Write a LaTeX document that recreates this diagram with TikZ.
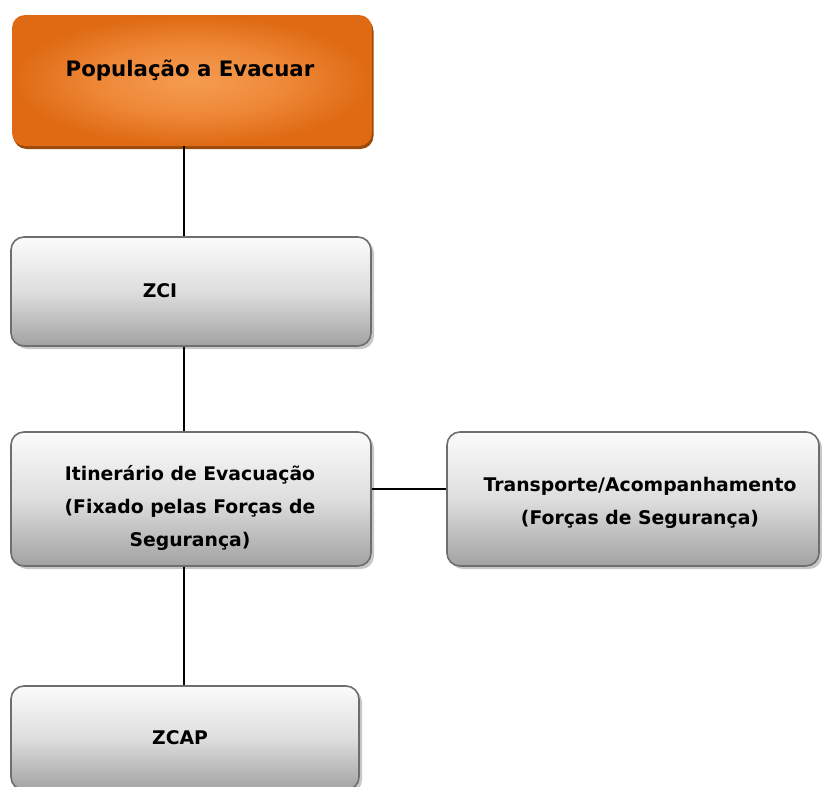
\documentclass[tikz,border=0pt]{standalone}
\usepackage{fontspec}
\setmainfont{DejaVu Sans}
\usetikzlibrary{shadows,shadings}
\definecolor{laranjaclaro}{HTML}{F59C50}
\definecolor{laranjameio}{HTML}{EE8838}
\definecolor{laranjaescuro}{HTML}{DF6A13}
\definecolor{laranjasombra}{HTML}{9A4A0B}
\definecolor{bordacinza}{HTML}{6E6E6E}
\definecolor{cinzatopo}{HTML}{FBFBFB}
\definecolor{cinzameio}{HTML}{DEDEDE}
\definecolor{cinzabase}{HTML}{A2A2A2}
\pgfdeclareradialshading{brilho}{\pgfpoint{0bp}{0bp}}{%
  color(0bp)=(laranjaclaro); color(13bp)=(laranjameio);
  color(25bp)=(laranjaescuro); color(50bp)=(laranjaescuro)}
\pgfdeclareverticalshading{metal}{100bp}{%
  color(0bp)=(cinzabase); color(25bp)=(cinzabase); color(50bp)=(cinzameio);
  color(75bp)=(cinzatopo); color(100bp)=(cinzatopo)}
\tikzstyle{caixa}=[rectangle, rounded corners=13pt, minimum width=360pt,
  inner sep=0pt]
\tikzstyle{cinza}=[caixa, draw=bordacinza, line width=1.6pt, shading=metal,
  drop shadow={shadow xshift=3pt, shadow yshift=-3pt, fill=black!22, opacity=1}]
\tikzstyle{laranja}=[caixa, shading=brilho,
  drop shadow={shadow xshift=1.5pt, shadow yshift=-3pt, fill=laranjasombra, opacity=1}]
\tikzstyle{texto}=[align=center, text=black,
  font=\fontsize{18.8}{33}\selectfont\bfseries]
\tikzstyle{linha}=[draw, line width=1.2pt, color=black]
\newcommand{\caixa}[4]{node (c#1) [#2] {} +(#3) node (t#1) [texto] {#4}}

\begin{document}
\begin{tikzpicture}[x=1pt,y=-1pt]
\useasboundingbox (0,0) rectangle (822,787);

% Caixas do diagrama
\path (192,80.5)  \caixa{1}{laranja, minimum height=131pt}{-2,-10.5}{\fontsize{21.3}{24}\selectfont População a Evacuar};
\path (191,291.5) \caixa{2}{cinza, minimum height=109pt}{-31,-1}{ZCI};
\path (191,499)   \caixa{3}{cinza, minimum height=134pt}{-1,9}{Itinerário de Evacuação\\(Fixado pelas Forças de\\Segurança)};
\path (633,499)   \caixa{4}{cinza, minimum width=372pt, minimum height=134pt}{7,3.5}{Transporte/Acompanhamento\\(Forças de Segurança)};
\path (185,738)   \caixa{5}{cinza, minimum width=348pt, minimum height=104pt}{-5,0}{ZCAP};

% Ligacoes entre caixas
\coordinate (eixo) at (184,0);
\path [linha] (c1.south -| eixo) -- (c2.north -| eixo);
\path [linha] (c2.south -| eixo) -- (c3.north -| eixo);
\path [linha] (c3.south -| eixo) -- (c5.north -| eixo);
\path [linha] ([yshift=10pt]c3.east) -- ([yshift=10pt]c4.west);

\end{tikzpicture}
\end{document}
